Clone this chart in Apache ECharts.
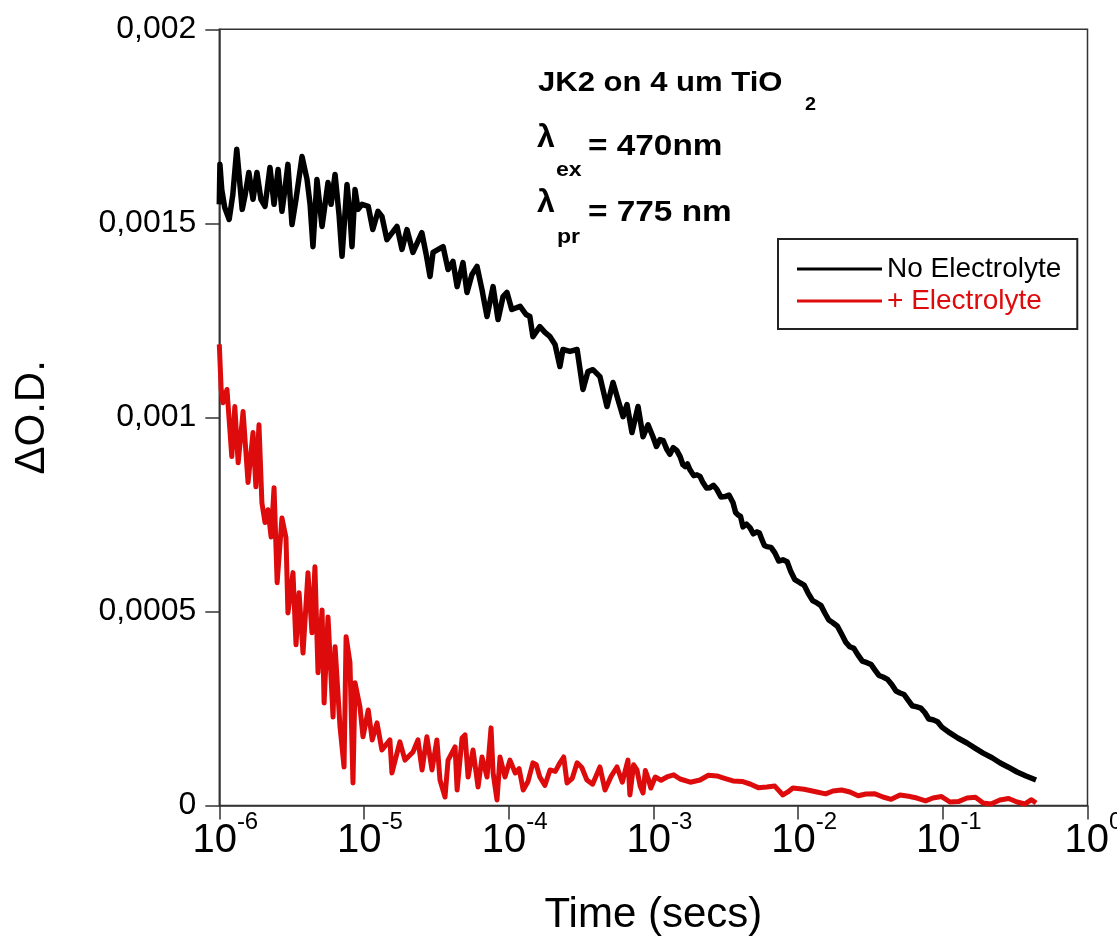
<!DOCTYPE html>
<html>
<head>
<meta charset="utf-8">
<script src="https://cdn.jsdelivr.net/npm/echarts@6/dist/echarts.min.js"></script>
<style>
html,body{margin:0;padding:0;background:#fff;}
#chart{width:1117px;height:940px;}
</style>
</head>
<body>
<div id="chart"></div>
<script>
// ---- data (time in seconds, ΔO.D.) ----
const seriesNames = ['No Electrolyte', '+ Electrolyte'];
const yTickLabels = ['0', '0,0005', '0,001', '0,0015', '0,002'];

const noElectrolyte = [
[1.00e-6,0.001549],[1.01e-6,0.001652],[1.04e-6,0.001587],[1.09e-6,0.001541],[1.17e-6,0.00151],
[1.24e-6,0.001574],[1.32e-6,0.001691],[1.44e-6,0.001536],[1.51e-6,0.001574],[1.60e-6,0.001631],
[1.71e-6,0.001562],[1.82e-6,0.001631],[1.94e-6,0.001562],[2.07e-6,0.001544],[2.24e-6,0.001644],
[2.39e-6,0.001549],[2.55e-6,0.001639],[2.71e-6,0.001531],[2.84e-6,0.001587],[2.98e-6,0.001652],
[3.18e-6,0.001497],[3.39e-6,0.001562],[3.73e-6,0.001672],[4.04e-6,0.001613],[4.24e-6,0.001549],
[4.44e-6,0.00144],[4.73e-6,0.001613],[5.13e-6,0.001492],[5.64e-6,0.001605],[5.92e-6,0.001549],
[6.31e-6,0.001626],[6.72e-6,0.001523],[7.05e-6,0.001415],[7.63e-6,0.0016],[8.00e-6,0.001523],
[8.26e-6,0.00144],[8.67e-6,0.001587],[9.10e-6,0.001536],[9.69e-6,0.001549],[1.07e-5,0.001544],
[1.15e-5,0.001484],[1.25e-5,0.001531],[1.33e-5,0.001518],[1.44e-5,0.001458],[1.69e-5,0.001492],
[1.83e-5,0.001433],[1.98e-5,0.001484],[2.18e-5,0.001425],[2.51e-5,0.001476],[2.69e-5,0.00142],
[2.86e-5,0.001363],[3.00e-5,0.001425],[3.52e-5,0.00144],[3.81e-5,0.001381],[4.12e-5,0.001402],
[4.40e-5,0.001337],[4.83e-5,0.001399],[5.15e-5,0.001322],[5.57e-5,0.001368],[6.04e-5,0.001389],
[6.54e-5,0.001329],[7.08e-5,0.00126],[7.80e-5,0.001337],[8.44e-5,0.001252],[9.14e-5,0.001311],
[9.73e-5,0.001322],[1.05e-4,0.001278],[1.20e-4,0.001286],[1.32e-4,0.001265],[1.40e-4,0.00126],
[1.47e-4,0.001208],[1.64e-4,0.001234],[1.78e-4,0.001219],[1.93e-4,0.001208],[2.09e-4,0.001188],
[2.26e-4,0.001131],[2.37e-4,0.001175],[2.65e-4,0.00117],[2.97e-4,0.001175],[3.26e-4,0.001072],
[3.53e-4,0.001118],[3.82e-4,0.001123],[4.27e-4,0.001105],[4.78e-4,0.001028],[5.26e-4,0.00109],
[5.69e-4,0.001046],[6.17e-4,0.001002],[6.57e-4,0.001033],[7.11e-4,0.000961],[7.83e-4,0.001028],
[8.48e-4,0.00095],[9.18e-4,0.000981],[9.93e-4,0.00095],[1.11e-3,0.000943],[1.24e-3,0.000917],
[1.37e-3,0.000922],[1.53e-3,0.000899],[1.66e-3,0.000873],[1.79e-3,0.000865],[2.00e-3,0.000852],
[2.20e-3,0.000832],[2.46e-3,0.000819],[2.75e-3,0.000814],[3.13e-3,0.000796],[3.55e-3,0.00078],
[3.84e-3,0.000749],[4.16e-3,0.000718],[4.65e-3,0.000716],[5.20e-3,0.000705],[5.63e-3,0.000685],
[6.08e-3,0.000667],[6.91e-3,0.000651],[7.85e-3,0.000633],[8.92e-3,0.000602],[1.03e-2,0.000574],
[1.17e-2,0.000548],[1.35e-2,0.000522],[1.53e-2,0.000496],[1.74e-2,0.000471],[2.01e-2,0.00044],
[2.28e-2,0.000409],[2.59e-2,0.000388],[2.99e-2,0.000368],[3.40e-2,0.000349],[3.86e-2,0.000331],
[4.45e-2,0.000311],[5.06e-2,0.00029],[5.74e-2,0.000272],[6.62e-2,0.000254],[7.53e-2,0.000239],
[8.55e-2,0.000221],[9.86e-2,0.000202],[0.112,0.000187],[0.127,0.000174],[0.147,0.000161],
[0.167,0.000148],[0.190,0.000135],[0.219,0.000123],[0.248,0.00011],[0.282,0.0000993],
[0.326,0.0000864],[0.376,0.0000761],[0.441,0.0000658],
// band thickness of the dense part of the trace
[1.05e-3,0.000925],[1.17e-3,0.000940],[1.30e-3,0.000905],[1.45e-3,0.000915],[1.60e-3,0.000878],
[1.72e-3,0.000880],[1.90e-3,0.000850],[2.10e-3,0.000848],[2.33e-3,0.000818],[2.60e-3,0.000825],
[2.93e-3,0.000795],[3.33e-3,0.000800],[3.70e-3,0.000755],[4.00e-3,0.000745],[4.40e-3,0.000725],
[4.90e-3,0.000700],[5.40e-3,0.000702],[5.85e-3,0.000670],[6.50e-3,0.000665],[7.35e-3,0.000630],
[8.40e-3,0.000628],[9.50e-3,0.000582],[1.10e-2,0.000568],[1.26e-2,0.000528],[1.44e-2,0.000515],
[1.63e-2,0.000478],[1.87e-2,0.000462],[2.14e-2,0.000420],[2.43e-2,0.000405],[2.78e-2,0.000372],
[3.20e-2,0.000363],[3.62e-2,0.000335],[4.15e-2,0.000325],[4.75e-2,0.000295],[5.40e-2,0.000286],
[6.15e-2,0.000257],[7.05e-2,0.000251],[8.00e-2,0.000223],[9.20e-2,0.000216]
];

const withElectrolyte = [
[1.00e-6,0.001188],[1.03e-6,0.001072],[1.06e-6,0.001038],[1.13e-6,0.001072],[1.22e-6,0.000899],
[1.28e-6,0.001028],[1.35e-6,0.000883],[1.46e-6,0.001015],[1.58e-6,0.000832],[1.71e-6,0.000961],
[1.79e-6,0.000821],[1.88e-6,0.000981],[1.97e-6,0.00078],[2.07e-6,0.000729],[2.17e-6,0.000762],
[2.28e-6,0.000692],[2.39e-6,0.000819],[2.51e-6,0.000574],[2.71e-6,0.000741],[2.89e-6,0.00069],
[2.98e-6,0.000496],[3.23e-6,0.0006],[3.39e-6,0.000414],[3.56e-6,0.000548],[3.79e-6,0.000393],
[4.10e-6,0.0006],[4.37e-6,0.000445],[4.58e-6,0.000615],[4.81e-6,0.000342],[5.13e-6,0.000504],
[5.30e-6,0.000264],[5.64e-6,0.000486],[6.11e-6,0.000228],[6.31e-6,0.000409],[6.83e-6,0.000202],
[7.28e-6,0.0000993],[7.52e-6,0.000435],[8.00e-6,0.000368],[8.39e-6,0.000058],[8.67e-6,0.000316],
[9.38e-6,0.000254],[9.84e-6,0.000177],[1.07e-5,0.000246],[1.14e-5,0.000169],[1.23e-5,0.000213],
[1.33e-5,0.000143],[1.51e-5,0.000169],[1.56e-5,0.0000838],[1.77e-5,0.000164],[1.92e-5,0.000117],
[2.18e-5,0.000138],[2.36e-5,0.000169],[2.52e-5,0.0000916],[2.72e-5,0.000177],[2.95e-5,0.0000916],
[3.19e-5,0.000169],[3.35e-5,0.0000658],[3.63e-5,0.0000219],[3.81e-5,0.000117],[4.26e-5,0.000151],
[4.40e-5,0.00004],[4.76e-5,0.000174],[4.99e-5,0.000182],[5.24e-5,0.0000735],[5.67e-5,0.000143],
[6.14e-5,0.0000477],[6.54e-5,0.000125],[7.08e-5,0.0000735],[7.55e-5,0.0002],[7.80e-5,0.0000838],
[8.30e-5,0.0000142],[8.71e-5,0.000125],[9.42e-5,0.0000735],[1.02e-4,0.000117],[1.11e-4,0.0000838],
[1.26e-4,0.00004],[1.47e-4,0.00011],[1.64e-4,0.0000735],[1.93e-4,0.0000916],[2.26e-4,0.00011],
[2.53e-4,0.000058],[2.97e-4,0.00011],[3.47e-4,0.0000658],[4.27e-4,0.0000993],[4.63e-4,0.00004],
[5.60e-4,0.0000993],[6.67e-4,0.000117],[6.88e-4,0.0000271],[7.70e-4,0.0000916],[8.48e-4,0.0000322],
[9.18e-4,0.0000709],[1.03e-3,0.0000735],[1.24e-3,0.0000735],[1.53e-3,0.0000683],[2.10e-3,0.0000658],
[2.75e-3,0.0000761],[3.55e-3,0.0000632],[4.65e-3,0.0000554],[6.08e-3,0.0000477],[7.85e-3,0.0000271],
[9.20e-3,0.0000451],[1.35e-2,0.0000348],[1.74e-2,0.0000374],[2.28e-2,0.0000348],[2.94e-2,0.0000297],
[3.86e-2,0.0000219],[5.06e-2,0.0000271],[6.62e-2,0.0000193],[8.55e-2,0.0000193],[0.112,0.000009],
[0.147,0.0000193],[0.190,0.0000064],[0.248,0.0000142],[0.326,0.000009],[0.441,0.0000064],
// extra noise / band thickness
[1.18e-4,0.000095],[1.36e-4,0.000062],[1.55e-4,0.000105],[1.78e-4,0.000052],[2.10e-4,0.000088],
[2.40e-4,0.000125],[2.75e-4,0.000070],[3.20e-4,0.000098],[3.80e-4,0.000055],[5.10e-4,0.000075],
[6.10e-4,0.000060],[7.30e-4,0.000105],[8.10e-4,0.000050],[8.80e-4,0.000090],[9.60e-4,0.000045],
[1.13e-3,0.0000650],[1.38e-3,0.0000790],[1.80e-3,0.0000600],[2.40e-3,0.0000780],[3.10e-3,0.0000700],
[4.10e-3,0.0000620],[5.30e-3,0.0000460],[6.90e-3,0.0000500],[8.50e-3,0.0000350],[1.10e-2,0.0000420],
[1.55e-2,0.0000300],[2.00e-2,0.0000400],[2.60e-2,0.0000250],[3.40e-2,0.0000300],[4.40e-2,0.0000160],
[5.80e-2,0.0000240],[7.60e-2,0.0000120],[0.098,0.0000230],[0.128,0.0000100],[0.168,0.0000210],
[0.215,0.0000040],[0.285,0.0000180],[0.37,0.0000040],[0.41,0.0000150]
];

const byTime = (a, b) => a[0] - b[0];
const blackData = noElectrolyte.slice().sort(byTime);
const redData = withElectrolyte.slice().sort(byTime);

const BLACK = '#000000';
const RED = '#dd0b0b';
const AXIS = '#333333';
const FONT = '"Liberation Sans", Arial, Helvetica, sans-serif';

const chart = echarts.init(document.getElementById('chart'), null, {renderer: 'canvas'});

function txt(x, y, text, size, scaleX, color) {
  return {
    type: 'text', x: x, y: y, scaleX: scaleX || 1, silent: true,
    style: {
      text: text, fill: color || '#000', font: 'bold ' + size + 'px ' + FONT,
      textAlign: 'left', textVerticalAlign: 'middle', verticalAlign: 'middle'
    }
  };
}

const option = {
  animation: false,
  backgroundColor: '#ffffff',
  textStyle: {fontFamily: FONT},
  grid: {
    left: 219.3, right: 29.5, top: 29.3, bottom: 134.5,
    show: true, borderColor: AXIS, borderWidth: 1.5, backgroundColor: 'transparent',
    containLabel: false, outerBoundsMode: 'none'
  },
  legend: {
    orient: 'vertical',
    left: 778, top: 239,
    padding: [16, 16, 14, 19],
    borderColor: '#222', borderWidth: 2, backgroundColor: '#fff',
    itemWidth: 85, itemHeight: 3, itemGap: 4,
    selectedMode: false,
    textStyle: {fontSize: 28, fontFamily: FONT, lineHeight: 28},
    data: [
      {name: seriesNames[0], icon: 'rect', textStyle: {color: BLACK}},
      {name: seriesNames[1], icon: 'rect', textStyle: {color: RED}}
    ]
  },
  xAxis: {
    type: 'log', logBase: 10, min: 1e-6, max: 1,
    name: 'Time (secs)', nameLocation: 'middle', nameGap: 89,
    nameTextStyle: {fontSize: 42, color: '#000', fontFamily: FONT},
    axisLine: {show: true, onZero: false, lineStyle: {color: AXIS, width: 1.5}},
    axisTick: {show: true, inside: false, length: 14, lineStyle: {color: AXIS, width: 1.5}},
    minorTick: {show: false},
    splitLine: {show: false},
    axisLabel: {
      margin: 4.5, color: '#000', showMinLabel: true, showMaxLabel: true, hideOverlap: false,
      formatter: function (v) {
        const e = Math.round(Math.log10(v));
        return '{b|10}{s|' + e + '}';
      },
      rich: {
        b: {fontSize: 40, lineHeight: 51, fontFamily: FONT, color: '#000', verticalAlign: 'bottom', padding: [0, 0, 0, 12]},
        s: {fontSize: 24, lineHeight: 24, fontFamily: FONT, color: '#000', verticalAlign: 'top'}
      }
    }
  },
  yAxis: {
    type: 'value', min: 0, max: 0.002, interval: 0.0005,
    name: 'ΔO.D.', nameLocation: 'middle', nameGap: 166,
    nameTextStyle: {fontSize: 42, color: '#000', fontFamily: FONT},
    axisLine: {show: true, lineStyle: {color: AXIS, width: 1.5}},
    axisTick: {show: true, inside: false, length: 14, lineStyle: {color: AXIS, width: 1.5}},
    splitLine: {show: false},
    axisLabel: {
      margin: 23, fontSize: 32, color: '#000', fontFamily: FONT,
      formatter: function (v) { return yTickLabels[Math.round(v / 0.0005)]; }
    }
  },
  series: [
    {
      name: seriesNames[0], type: 'line', data: blackData,
      showSymbol: false, symbol: 'none', color: BLACK,
      lineStyle: {color: BLACK, width: 5.5, join: 'round'}, z: 3
    },
    {
      name: seriesNames[1], type: 'line', data: redData,
      showSymbol: false, symbol: 'none', color: RED,
      lineStyle: {color: RED, width: 5, join: 'round'}, z: 2
    }
  ],
  graphic: [
    txt(538, 83.3, 'JK2 on 4 um TiO', 27, 1.15),
    txt(805, 105.5, '2', 18, 1.1),
    txt(537, 138.5, 'λ', 32, 1.0),
    txt(556, 170.4, 'ex', 21, 1.1),
    txt(588, 146.6, '= 470nm', 29, 1.15),
    txt(537, 203.5, 'λ', 32, 1.0),
    txt(557, 237.4, 'pr', 21, 1.1),
    txt(588, 212.6, '= 775 nm', 29, 1.15)
  ]
};
chart.setOption(option);
</script>
</body>
</html>
